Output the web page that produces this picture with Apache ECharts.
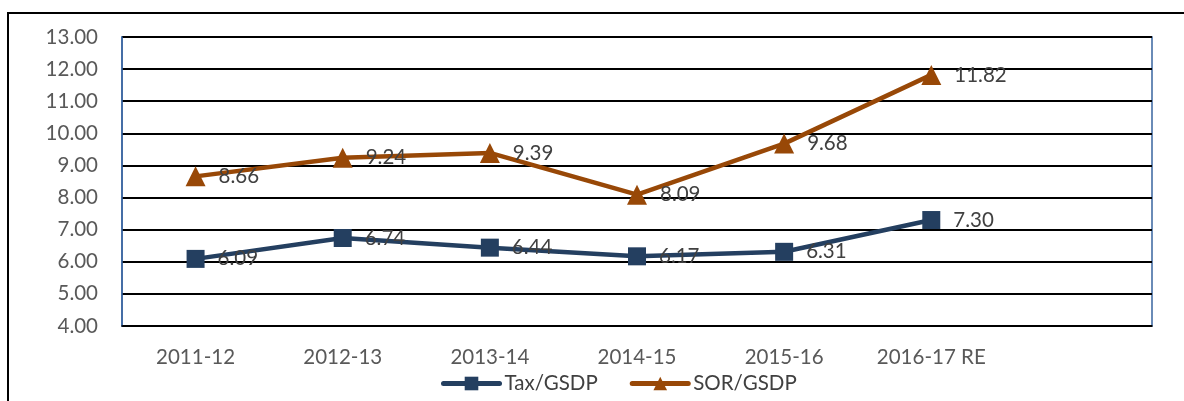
<!DOCTYPE html>
<html>
<head>
<meta charset="utf-8">
<script src="https://cdn.jsdelivr.net/npm/echarts@6/dist/echarts.min.js"></script>
<style>
  html, body { margin: 0; padding: 0; background: #fff; }
  #chart { width: 1184px; height: 401px; }
</style>
</head>
<body>
<div id="chart"></div>
<script>
// Fiscal years (last slot left empty as spacing on the right)
const categories = ['2011-12', '2012-13', '2013-14', '2014-15', '2015-16', '2016-17 RE', ''];
const taxGsdp = [6.09, 6.74, 6.44, 6.17, 6.31, 7.30];
const sorGsdp = [8.66, 9.24, 9.39, 8.09, 9.68, 11.82];
const yTicks = { min: 4, max: 13, interval: 1 };

const chart = echarts.init(document.getElementById('chart'), null, { renderer: 'canvas' });
const font = 'Lato, "Noto Sans", sans-serif';

const labelStyle = {
  show: true,
  position: 'right',
  distance: 13,
  color: '#404040',
  fontSize: 20.5,
  fontFamily: font,
  formatter: p => p.value.toFixed(2)
};

chart.setOption({
  animation: false,
  graphic: [{
    type: 'rect',
    shape: { x: 8, y: 13, width: 1200, height: 420 },
    style: { fill: 'none', stroke: '#000', lineWidth: 2 },
    silent: true,
    z: -1
  }, {
    type: 'rect',
    shape: { x: 122, y: 37, width: 1030, height: 289 },
    style: { fill: 'none', stroke: '#3a65a0', lineWidth: 1.5 },
    silent: true,
    z: -1
  }],
  grid: { left: 122, top: 37, width: 1030, height: 289, containLabel: false },
  legend: {
    left: 436,
    top: 368,
    itemGap: 32,
    itemWidth: 56,
    itemHeight: 17,
    lineStyle: { width: 5, cap: 'round' },
    textStyle: { color: '#404040', fontSize: 20.5, fontFamily: font },
    data: ['Tax/GSDP', 'SOR/GSDP']
  },
  xAxis: {
    type: 'category',
    data: categories,
    boundaryGap: true,
    axisLine: { show: true, lineStyle: { color: '#000', width: 1.5 } },
    axisTick: { show: false },
    axisLabel: { color: '#595959', fontSize: 20.5, fontFamily: font, margin: 21 },
    splitLine: { show: false }
  },
  yAxis: {
    type: 'value',
    min: yTicks.min,
    max: yTicks.max,
    interval: yTicks.interval,
    axisLine: { show: true, lineStyle: { color: '#3a65a0', width: 1.5 } },
    axisTick: { show: false },
    axisLabel: { color: '#595959', fontSize: 20.5, fontFamily: font, margin: 24, formatter: v => v.toFixed(2) },
    splitLine: { show: true, lineStyle: { color: '#000', width: 1.8 } }
  },
  series: [{
    name: 'Tax/GSDP',
    type: 'line',
    data: taxGsdp,
    symbol: 'rect',
    symbolSize: 18,
    itemStyle: { color: '#243f60' },
    lineStyle: { color: '#243f60', width: 4.5 },
    label: labelStyle,
    z: 3
  }, {
    name: 'SOR/GSDP',
    type: 'line',
    data: sorGsdp,
    symbol: 'triangle',
    symbolSize: 20,
    itemStyle: { color: '#984807' },
    lineStyle: { color: '#984807', width: 4.5 },
    label: labelStyle,
    z: 3
  }]
});
</script>
</body>
</html>
